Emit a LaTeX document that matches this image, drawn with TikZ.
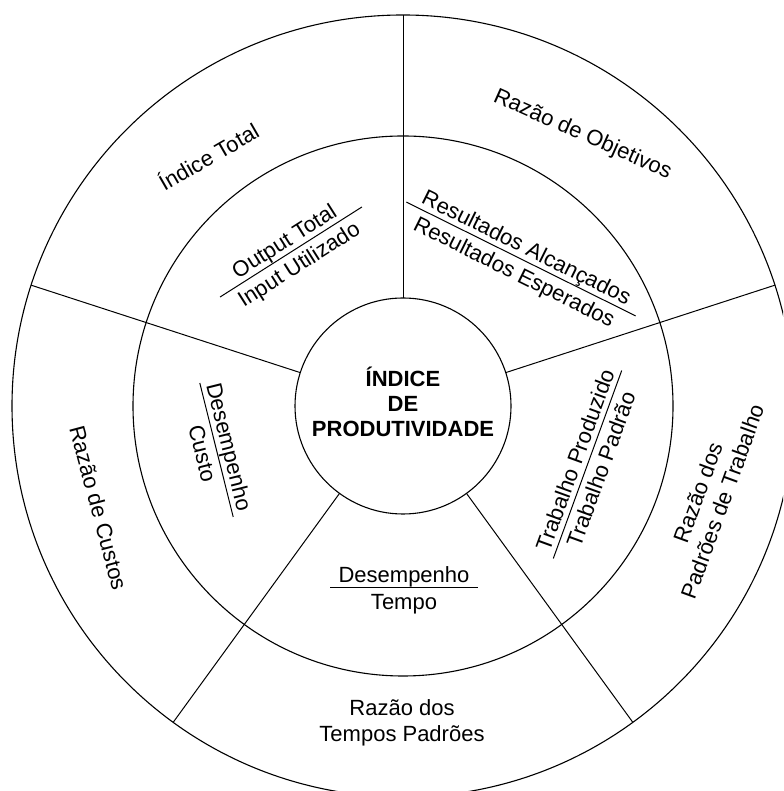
\documentclass[tikz,border=0pt]{standalone}
\usepackage{fontspec}
\setmainfont{Liberation Sans}
\usetikzlibrary{calc}

% A ratio: a bar with its numerator above and its denominator below.
% #1 name, #2 centre, #3 angle of the bar, #4 half length, #5 numerator, #6 denominator
\newcommand{\ratiobar}[6]{%
  \coordinate (#1) at #2;
  \path (#1) ++(#3+180:#4) coordinate (#1-a)
        (#1) ++(#3:#4) coordinate (#1-b);
  \draw[bar] (#1-a) -- (#1-b);
  \node[lbl, rotate=#3, anchor=base] (#1-num) at ($(#1)+(#3+90:5.5)$) {#5};
  \node[lbl, rotate=#3, anchor=base] (#1-den) at ($(#1)+(#3-90:22)$) {#6};
}

\begin{document}
\begin{tikzpicture}[x=1pt,y=1pt,
  ring/.style={circle, draw, line width=1.1pt, inner sep=0pt, outer sep=0pt},
  spoke/.style={line width=1pt},
  bar/.style={line width=1pt},
  lbl/.style={font=\fontsize{22}{26}\selectfont, inner sep=0pt, align=center}]

\useasboundingbox (0,0) rectangle (783,791);
\fill[white] (0,0) rectangle (783,791);
\clip (0,0) rectangle (783,791);

\coordinate (C) at (403,385);

% the three rings
\node[ring, minimum size=782pt] (rim) at (C) {};
\node[ring, minimum size=540pt] (mid) at (C) {};
\node[ring, minimum size=216pt] (core) at (C) {};
\node[align=center, inner sep=0pt, font=\fontsize{22}{25}\selectfont\bfseries]
      (title) at ($(core.center)+(0,4)$) {ÍNDICE\\DE\\PRODUTIVIDADE};

% five spokes dividing the sectors
\foreach \a in {18,90,162,234,306}
  \draw[spoke] (core.\a) -- (rim.\a);

% ratios in the middle ring
\ratiobar{f1}{(291,539)}{32.4}{84}{Output Total}{Input Utilizado}
\ratiobar{f2}{(521,532)}{-26.4}{128}{Resultados Alcançados}{Resultados Esperados}
\ratiobar{f3}{(587.5,326.5)}{70}{100}{Trabalho Produzido}{Trabalho Padrão}
\ratiobar{f4}{(216.5,341)}{-76}{69}{Desempenho}{Custo}
\ratiobar{f5}{(404,203)}{0}{74}{Desempenho}{Tempo}

% names in the outer ring
\node[lbl, rotate=30]  (n1) at (208,635)   {Índice Total};
\node[lbl, rotate=-24] (n2) at (582.5,656) {Razão de Objetivos};
\node[lbl, rotate=70]  (n3) at (710,294)   {Razão dos\\Padrões de Trabalho};
\node[lbl]             (n4) at (402,68.5)  {Razão dos\\Tempos Padrões};
\node[lbl, rotate=-75] (n5) at (98.5,283)  {Razão de Custos};

\end{tikzpicture}
\end{document}
